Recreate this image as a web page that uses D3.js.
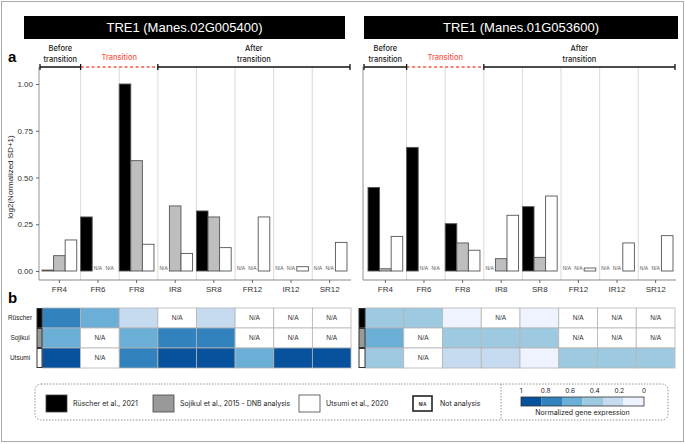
<!DOCTYPE html>
<html><head><meta charset="utf-8">
<script src="https://cdn.jsdelivr.net/npm/d3@7"></script>
<style>body{margin:0;background:#fff}svg{display:block}</style>
</head><body>
<svg id="c" width="685" height="444"></svg>
<script>
// ---- data ----
const categories = ["FR4","FR6","FR8","IR8","SR8","FR12","IR12","SR12"];
const studies = ["Rüscher","Sojikul","Utsumi"];
const geneTitles = ["TRE1 (Manes.02G005400)","TRE1 (Manes.01G053600)"];
const yTicks = [0, 0.25, 0.5, 0.75, 1.0];
// bar values: log2(Normalized SD+1); null = N/A
const g1Ruscher = [0.005, 0.289, 1.0, null, 0.321, null, null, null];
const g1Sojikul = [0.082, null, 0.59, 0.348, 0.289, null, null, null];
const g1Utsumi  = [0.166, null, 0.143, 0.094, 0.125, 0.289, 0.023, 0.153];
const g2Ruscher = [0.447, 0.661, 0.253, null, 0.344, null, null, null];
const g2Sojikul = [0.012, null, 0.150, 0.066, 0.073, null, null, null];
const g2Utsumi  = [0.185, null, 0.111, 0.298, 0.401, 0.016, 0.150, 0.189];
// heatmap: normalized gene expression; null = N/A
const h1Ruscher = [0.75, 0.58, 0.25, null, 0.25, null, null, null];
const h1Sojikul = [0.58, null, 0.58, 0.75, 0.75, null, null, null];
const h1Utsumi  = [0.92, null, 0.75, 0.92, 0.92, 0.58, 0.92, 0.92];
const h2Ruscher = [0.42, 0.42, 0.08, null, 0.08, null, null, null];
const h2Sojikul = [0.58, null, 0.42, 0.42, 0.42, null, null, null];
const h2Utsumi  = [0.42, null, 0.25, 0.25, 0.08, 0.42, 0.42, 0.42];
const phases = ["Before\ntransition","Transition","After\ntransition"];
const legendLabels = ["Rüscher et al., 2021","Sojikul et al., 2015 - DNB analysis","Utsumi et al., 2020"];
const colorTicks = [1, 0.8, 0.6, 0.4, 0.2, 0];
const blues = ["#eff3ff","#c6dbef","#9ecae1","#6baed6","#3182bd","#08519c"];

// ---- styles ----
const barFill = ["#000000","#bebebe","#ffffff"];
const stripFill = ["#000000","#999999","#ffffff"];
const FONT = "'Liberation Sans', Arial, sans-serif";
const FONT2 = "Inter, 'Open Sans', sans-serif";
const RED = "#f4574a";

const svg = d3.select("#c");
svg.append("rect").attr("x",1.5).attr("y",1.5).attr("width",682).attr("height",440)
  .attr("fill","none").attr("stroke","#aaa").attr("stroke-width",1);

const y = d3.scaleLinear().domain([0,1]).range([271,84]);
const color = d3.scaleQuantize().domain([0,1]).range(blues);

const panels = [
  {title: geneTitles[0], tx0:24, tx1:345, ax:39, px0:42, px1:347, pr:351, bars:[g1Ruscher,g1Sojikul,g1Utsumi],
   heat:[h1Ruscher,h1Sojikul,h1Utsumi], hx0:42, hx1:351, sx:37, yaxis:true},
  {title: geneTitles[1], tx0:364, tx1:678, ax:363, px0:368, px1:673, pr:676, bars:[g2Ruscher,g2Sojikul,g2Utsumi],
   heat:[h2Ruscher,h2Sojikul,h2Utsumi], hx0:365, hx1:675, sx:359, yaxis:false}
];

panels.forEach(p => {
  const g = svg.append("g");
  // title
  g.append("rect").attr("x",p.tx0).attr("y",16).attr("width",p.tx1-p.tx0).attr("height",23).attr("fill","#000");
  g.append("text").attr("x",(p.tx0+p.tx1)/2).attr("y",32).attr("text-anchor","middle")
    .attr("fill","#fff").attr("font-family",FONT).attr("font-size",13).text(p.title);

  const x = d3.scaleBand().domain(categories).range([p.px0,p.px1]).paddingInner(0.1).paddingOuter(0);
  const xs = d3.scaleBand().domain(studies).range([0,x.bandwidth()]);

  // separators
  categories.slice(1).forEach(c => {
    g.append("line").attr("x1",x(c)).attr("x2",x(c)).attr("y1",67).attr("y2",280)
      .attr("stroke","#d0d0d0").attr("stroke-width",0.8);
  });
  // axis lines
  g.append("line").attr("x1",p.ax).attr("x2",p.ax).attr("y1",67).attr("y2",280).attr("stroke","#888").attr("stroke-width",0.9);
  const xAxis = d3.axisBottom(x).tickSize(3).tickSizeOuter(0);
  const xg = g.append("g").attr("transform","translate(0,280)").call(xAxis);
  xg.select(".domain").attr("d",`M${p.ax},0H${p.pr}`).attr("stroke","#888");
  xg.selectAll(".tick line").attr("stroke","#666");
  xg.selectAll("text").attr("font-family",FONT).attr("font-size",8).attr("fill","#333");

  if (p.yaxis) {
    const yg = g.append("g").attr("transform",`translate(${p.ax},0)`)
      .call(d3.axisLeft(y).tickValues(yTicks).tickFormat(d3.format(".2f")).tickSize(3));
    yg.select(".domain").remove();
    yg.selectAll(".tick line").attr("stroke","#666");
    yg.selectAll("text").attr("font-family",FONT).attr("font-size",8).attr("fill","#333");
    g.append("text").attr("transform","translate(13,177) rotate(-90)").attr("text-anchor","middle")
      .attr("font-family",FONT).attr("font-size",8).attr("fill","#222").text("log2(Normalized SD+1)");
  }

  // bars
  p.bars.forEach((arr, si) => {
    arr.forEach((v, ci) => {
      const bx = x(categories[ci]) + xs(studies[si]);
      const val = v == null ? 0 : v;
      g.append("rect").attr("x",bx).attr("y",y(val)).attr("width",xs.bandwidth()).attr("height",y(0)-y(val))
        .attr("fill",barFill[si]).attr("stroke","#555").attr("stroke-width",0.9);
      if (v == null) {
        g.append("text").attr("x",bx+xs.bandwidth()/2).attr("y",y(0)-1.5).attr("text-anchor","middle")
          .attr("font-family",FONT).attr("font-size",5).attr("fill","#555").text("N/A");
      }
    });
  });

  // brackets
  const bY = 67;
  const b0 = p.ax+1, b1 = x("FR6"), b2 = x("IR8"), b3 = p.pr-1;
  g.append("line").attr("x1",b0).attr("x2",b1).attr("y1",bY).attr("y2",bY).attr("stroke","#111").attr("stroke-width",1.3);
  g.append("line").attr("x1",b1).attr("x2",b2).attr("y1",bY).attr("y2",bY).attr("stroke",RED).attr("stroke-width",1.3).attr("stroke-dasharray","3,2.5");
  g.append("line").attr("x1",b2).attr("x2",b3).attr("y1",bY).attr("y2",bY).attr("stroke","#111").attr("stroke-width",1.3);
  [b0,b1,b2,b3].forEach(bx => g.append("line").attr("x1",bx).attr("x2",bx).attr("y1",bY-3).attr("y2",bY+3).attr("stroke","#111").attr("stroke-width",1.3));
  const mids = [(b0+b1)/2, (b1+b2)/2, (b2+b3)/2];
  phases.forEach((ph, i) => {
    const lines = ph.split("\n");
    const t = g.append("text").attr("text-anchor","middle").attr("font-family",FONT2).attr("font-size",7.5)
      .attr("font-weight",500).attr("fill", i===1 ? RED : "#222");
    if (lines.length === 1) {
      t.append("tspan").attr("x",mids[i]).attr("y",60).text(lines[0]);
    } else {
      t.append("tspan").attr("x",mids[i]).attr("y",51).text(lines[0]);
      t.append("tspan").attr("x",mids[i]).attr("y",62).text(lines[1]);
    }
  });

  // heatmap
  const hx = d3.scaleBand().domain(categories).range([p.hx0,p.hx1]);
  const hy = d3.scaleBand().domain(studies).range([308,368]);
  p.heat.forEach((arr, si) => {
    arr.forEach((v, ci) => {
      g.append("rect").attr("x",hx(categories[ci])).attr("y",hy(studies[si]))
        .attr("width",hx.bandwidth()).attr("height",hy.bandwidth())
        .attr("fill", v == null ? "#fff" : color(v)).attr("stroke","#b5b5b5").attr("stroke-width",0.8);
      if (v == null) {
        g.append("text").attr("x",hx(categories[ci])+hx.bandwidth()/2).attr("y",hy(studies[si])+hy.bandwidth()/2+2.3)
          .attr("text-anchor","middle").attr("font-family",FONT).attr("font-size",6.5).attr("fill","#333").text("N/A");
      }
    });
    g.append("rect").attr("x",p.sx).attr("y",hy(studies[si])+0.5).attr("width",p.hx0-p.sx).attr("height",hy.bandwidth()-1)
      .attr("fill",stripFill[si]).attr("stroke","#333").attr("stroke-width",1);
    if (p.yaxis) {
      g.append("text").attr("x",20).attr("y",hy(studies[si])+hy.bandwidth()/2+2.3).attr("text-anchor","middle")
        .attr("font-family",FONT).attr("font-size",6.5).attr("fill","#222").text(studies[si]);
    }
  });
});

// panel labels
svg.append("text").attr("x",8).attr("y",62).attr("font-family",FONT).attr("font-weight","bold").attr("font-size",15).text("a");
svg.append("text").attr("x",8).attr("y",303).attr("font-family",FONT).attr("font-weight","bold").attr("font-size",15).text("b");

// legend
const lg = svg.append("g");
lg.append("rect").attr("x",35).attr("y",384).attr("width",633).attr("height",36).attr("rx",6)
  .attr("fill","none").attr("stroke","#777").attr("stroke-width",0.8).attr("stroke-dasharray","1.5,1.5");
lg.append("line").attr("x1",501).attr("x2",501).attr("y1",384).attr("y2",420)
  .attr("stroke","#777").attr("stroke-width",0.8).attr("stroke-dasharray","1.5,1.5");
const legX = [46,153,299];
legendLabels.forEach((lab,i) => {
  lg.append("rect").attr("x",legX[i]).attr("y",395).attr("width",21).attr("height",17)
    .attr("fill",stripFill[i]).attr("stroke","#444").attr("stroke-width",0.8);
  lg.append("text").attr("x",legX[i]+27).attr("y",406).attr("font-family",FONT2).attr("font-size",7).attr("fill","#222").text(lab);
});
lg.append("rect").attr("x",413).attr("y",396).attr("width",19).attr("height",15)
  .attr("fill","#fff").attr("stroke","#222").attr("stroke-width",1.6);
lg.append("text").attr("x",422.5).attr("y",405.5).attr("text-anchor","middle").attr("font-family",FONT).attr("font-size",4.5).attr("font-weight","bold").attr("fill","#222").text("N/A");
lg.append("text").attr("x",440).attr("y",406).attr("font-family",FONT2).attr("font-size",7).attr("fill","#222").text("Not analysis");

const cx = d3.scaleLinear().domain([1,0]).range([521,644]);
const bw = (cx(0)-cx(1))/blues.length;
blues.slice().reverse().forEach((c,i) => {
  lg.append("rect").attr("x",cx(1)+i*bw).attr("y",397).attr("width",bw).attr("height",9).attr("fill",c);
});
lg.append("rect").attr("x",cx(1)).attr("y",397).attr("width",cx(0)-cx(1)).attr("height",9)
  .attr("fill","none").attr("stroke","#333").attr("stroke-width",0.8);
colorTicks.forEach(t => {
  lg.append("text").attr("x",cx(t)).attr("y",393).attr("text-anchor","middle").attr("font-family",FONT2)
    .attr("font-size",6.5).attr("fill","#222").text(t);
});
lg.append("text").attr("x",(cx(0)+cx(1))/2).attr("y",415).attr("text-anchor","middle").attr("font-family",FONT2)
  .attr("font-size",7).attr("fill","#222").text("Normalized gene expression");
</script>
</body></html>
